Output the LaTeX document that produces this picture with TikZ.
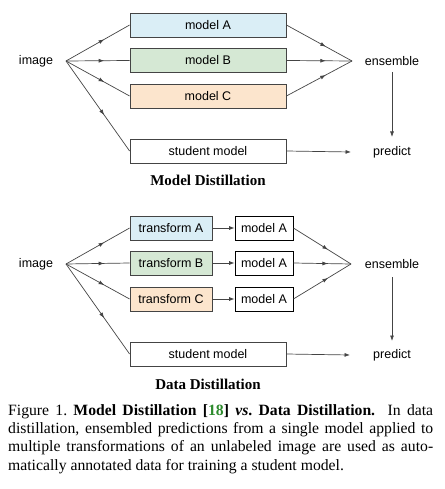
\documentclass[tikz,border=0pt]{standalone}
\usepackage{fontspec}
\setmainfont{Liberation Serif}
\newfontfamily\arialf{Liberation Sans}
\usetikzlibrary{arrows.meta,calc}
\definecolor{fillA}{HTML}{DAEEF6}
\definecolor{fillB}{HTML}{D5E8D4}
\definecolor{fillC}{HTML}{FCE5CD}
\definecolor{citegreen}{HTML}{2E8B2E}
\definecolor{linegray}{HTML}{444444}
\newcommand{\midconn}[2]{%
  \draw[conn,tip] (#1) -- ($(#1)!0.6!(#2)$);
  \draw[conn] ($(#1)!0.55!(#2)$) -- (#2);}
\begin{document}
\begin{tikzpicture}[x=1pt,y=1pt,
  lbl/.style={font=\arialf\fontsize{12.5}{14}\selectfont, inner sep=0pt},
  box/.style={draw=linegray, line width=0.8pt, minimum height=24pt, inner sep=0pt,
    font=\arialf\fontsize{12.5}{14}\selectfont},
  wbox/.style={box, minimum width=156pt},
  tbox/.style={box, minimum width=82pt},
  sbox/.style={box, minimum width=58pt, draw=black},
  tip/.style={-{Latex[length=5.5pt,width=4pt]}},
  conn/.style={draw=linegray, line width=0.7pt},
  ttl/.style={font=\bfseries\fontsize{15}{18}\selectfont, inner sep=0pt}
]
\useasboundingbox (0,0) rectangle (444,-489);

% ---------- Model Distillation ----------
\node[lbl] (img1) at (36,-61) {image};
\coordinate (o1) at (66,-61);
\node[wbox, fill=fillA] (mA) at (208,-25) {model A};
\node[wbox, fill=fillB] (mB) at (208,-60.5) {model B};
\node[wbox, fill=fillC] (mC) at (208,-96) {model C};
\node[wbox, fill=white] (s1) at (208,-151) {student model};
\coordinate (c1) at (352,-61);
\node[lbl] (ens1) at (392,-61) {ensemble};
\node[lbl] (pr1) at (392,-152) {predict};

\midconn{o1}{mA.west}
\midconn{o1}{mB.west}
\midconn{o1}{mC.west}
\midconn{o1}{s1.west}
\midconn{mA.east}{c1}
\midconn{mB.east}{c1}
\midconn{mC.east}{c1}
\draw[conn,tip] ([yshift=-11pt]ens1.center) -- ([yshift=15pt]pr1.center);
\draw[conn,tip] (s1.east) -- ([xshift=-22pt]pr1.west);
\node[ttl] (t1) at (208,-180) {Model Distillation};

% ---------- Data Distillation ----------
\node[lbl] (img2) at (36,-264) {image};
\coordinate (o2) at (66,-264);
\node[tbox, fill=fillA] (tA) at (171,-228) {transform A};
\node[tbox, fill=fillB] (tB) at (171,-263) {transform B};
\node[tbox, fill=fillC] (tC) at (171,-299) {transform C};
\node[sbox, fill=white] (dA) at (264,-228) {model A};
\node[sbox, fill=white] (dB) at (264,-263) {model A};
\node[sbox, fill=white] (dC) at (264,-299) {model A};
\node[wbox, fill=white] (s2) at (208,-354) {student model};
\coordinate (c2) at (351,-264);
\node[lbl] (ens2) at (392,-264) {ensemble};
\node[lbl] (pr2) at (392,-355) {predict};

\midconn{o2}{tA.west}
\midconn{o2}{tB.west}
\midconn{o2}{tC.west}
\midconn{o2}{s2.west}
\draw[conn,tip] (tA.east) -- (dA.west);
\draw[conn,tip] (tB.east) -- (dB.west);
\draw[conn,tip] (tC.east) -- (dC.west);
\midconn{dA.east}{c2}
\midconn{dB.east}{c2}
\midconn{dC.east}{c2}
\draw[conn,tip] ([yshift=-13pt]ens2.center) -- ([yshift=14pt]pr2.center);
\draw[conn,tip] (s2.east) -- ([xshift=-23pt]pr2.west);
\node[ttl] (t2) at (208,-384) {Data Distillation};

% ---------- Caption ----------
\node[anchor=north west, text width=425pt, align=justify, inner sep=0pt,
      font=\fontsize{15.7}{18.2}\selectfont] (cap) at (8,-404.5)
{Figure 1.\ \textbf{Model Distillation [\textcolor{citegreen}{18}] \textit{vs}.\ Data Distillation.}\ \ In data\linebreak
distillation, ensembled predictions from a single model applied to\linebreak
multiple transformations of an unlabeled image are used as auto-\linebreak
matically annotated data for training a student model.};
\end{tikzpicture}
\end{document}
